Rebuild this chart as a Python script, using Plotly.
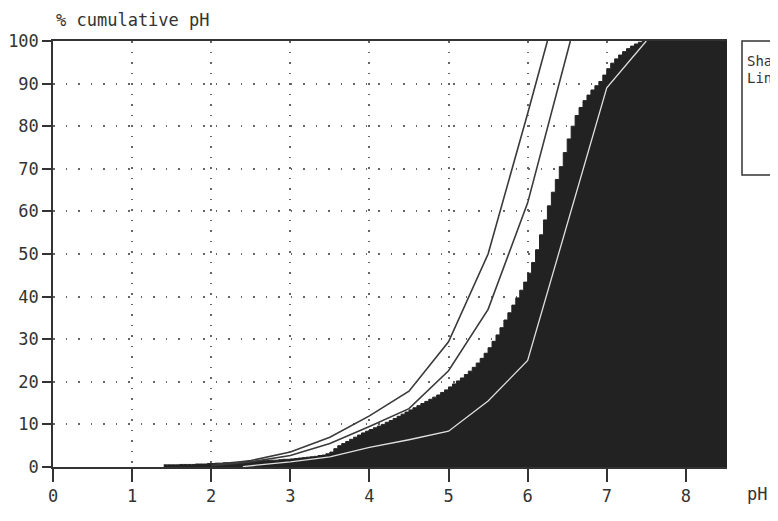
import plotly.graph_objects as go

# ---------------- data ----------------
x_max = 8.52
y_ticks = [0, 10, 20, 30, 40, 50, 60, 70, 80, 90, 100]
x_ticks = [0, 1, 2, 3, 4, 5, 6, 7, 8]

# shaded cumulative distribution (steps of 0.05 pH starting at 1.40)
shade_ph_start = 1.40
shade_ph_step = 0.05
shade_cum = [
    0.5, 0.5, 0.5, 0.5, 0.6, 0.6, 0.6, 0.6, 0.7, 0.7, 0.7, 0.8,      # 1.40-1.95
    0.8, 0.9, 0.9, 1.0, 1.0, 1.1, 1.1, 1.2, 1.2, 1.3,                # 2.00-2.45
    1.3, 1.4, 1.4, 1.5, 1.5, 1.6, 1.6, 1.7, 1.8, 1.8,                # 2.50-2.95
    1.9, 2.0, 2.1, 2.2, 2.3, 2.4, 2.5, 2.7, 2.8, 3.1,                # 3.00-3.45
    3.5, 4.3, 5.0, 5.5, 6.0, 6.5, 7.0, 7.5, 8.0, 8.4,                # 3.50-3.95
    8.8, 9.2, 9.6, 10.0, 10.5, 10.9, 11.4, 11.9, 12.4, 12.9,         # 4.00-4.45
    13.4, 13.9, 14.4, 14.9, 15.4, 15.9, 16.4, 16.9, 17.5, 18.1,      # 4.50-4.95
    18.8, 19.5, 20.2, 20.9, 21.7, 22.5, 23.4, 24.4, 25.5, 26.7,      # 5.00-5.45
    28.0, 29.5, 31.0, 32.7, 34.5, 36.2, 38.0, 39.7, 41.5, 43.4,      # 5.50-5.95
    45.5, 48.0, 51.0, 54.5, 58.0, 61.3, 64.5, 67.5, 70.5, 73.8,      # 6.00-6.45
    77.0, 80.0, 82.5, 84.4, 86.0, 87.3, 88.5, 89.5, 90.5, 92.0,      # 6.50-6.95
    93.5, 94.8, 95.8, 96.7, 97.5, 98.2, 98.8, 99.3, 99.7, 100.0,     # 7.00-7.45
]

line_a_ph = [2.0, 2.5, 3.0, 3.5, 4.0, 4.5, 5.0, 5.5, 6.0, 6.25]
line_a_cum = [0.4, 1.5, 3.5, 7.0, 12.0, 17.8, 29.4, 50.0, 83.0, 100.0]

line_b_ph = [2.0, 2.5, 3.0, 3.5, 4.0, 4.5, 5.0, 5.5, 6.0, 6.54]
line_b_cum = [0.3, 1.2, 2.7, 5.5, 9.5, 13.7, 22.6, 37.0, 62.0, 100.0]

line_c_ph = [2.4, 3.0, 3.5, 4.0, 4.5, 5.0, 5.5, 6.0, 7.0, 7.5]
line_c_cum = [0.1, 1.2, 2.4, 4.6, 6.4, 8.4, 15.5, 25.0, 89.0, 100.0]

legend_lines = ["Sha", "Lin"]

# ---------------- figure ----------------
shade_ph = [round(shade_ph_start + shade_ph_step * i, 2) for i in range(len(shade_cum))]
shade_x = shade_ph + [x_max]
shade_y = shade_cum + [shade_cum[-1]]

FONT = "DejaVu Sans Mono"
INK = "#333333"
FS = 17

fig = go.Figure()
fig.add_trace(go.Scatter(
    x=shade_x, y=shade_y, mode="lines", line=dict(shape="hv", color="#222222", width=1),
    fill="tozeroy", fillcolor="#222222", hoverinfo="skip", showlegend=False))
fig.add_trace(go.Scatter(
    x=line_a_ph, y=line_a_cum, mode="lines", line=dict(color="#3a3a3a", width=1.6),
    showlegend=False))
fig.add_trace(go.Scatter(
    x=line_b_ph, y=line_b_cum, mode="lines", line=dict(color="#3a3a3a", width=1.6),
    showlegend=False))
fig.add_trace(go.Scatter(
    x=line_c_ph, y=line_c_cum, mode="lines", line=dict(color="#e0e0e0", width=1.3),
    showlegend=False))

# page has an 8px body margin: lay the figure out in window pixels minus 8
OFF = 8
W, H = 778 - OFF, 521 - OFF
ml, mt = 53 - OFF, 41 - OFF
mr = W - (727 - OFF)
mb = H - (467 - OFF)
pw, ph_ = W - ml - mr, H - mt - mb


def px_x(px):
    return (px - OFF - ml) / pw


def px_y(py):
    return (H - mb - (py - OFF)) / ph_


fig.update_layout(
    width=W, height=H,
    margin=dict(l=ml, r=mr, t=mt, b=mb, autoexpand=False),
    paper_bgcolor="white", plot_bgcolor="white",
    font=dict(family=FONT, size=FS, color=INK),
    showlegend=False,
    xaxis=dict(
        range=[0, x_max], tickvals=x_ticks, ticktext=[str(v) for v in x_ticks],
        ticks="outside", ticklen=13, tickwidth=1.5, tickcolor=INK,
        showline=True, linecolor=INK, linewidth=1.5, mirror=True,
        showgrid=True, gridcolor="#666666", gridwidth=1.5, griddash="1.5px,9px",
        zeroline=False, fixedrange=True,
        tickfont=dict(family=FONT, size=FS, color=INK),
    ),
    yaxis=dict(
        range=[0, 100], tickvals=y_ticks, ticktext=[str(v) for v in y_ticks],
        ticks="outside", ticklen=9, tickwidth=1.5, tickcolor=INK,
        showline=True, linecolor=INK, linewidth=1.5,
        showgrid=True, gridcolor="#666666", gridwidth=1.5, griddash="1.5px,11px",
        zeroline=False, fixedrange=True,
        tickfont=dict(family=FONT, size=FS, color=INK),
    ),
)

# axis titles
fig.add_annotation(text="% cumulative pH", xref="paper", yref="paper",
                   x=px_x(54), y=px_y(20), xanchor="left", yanchor="middle",
                   showarrow=False, font=dict(family=FONT, size=FS, color=INK))
fig.add_annotation(text="pH", xref="paper", yref="paper",
                   x=px_x(757), y=px_y(494), xanchor="center", yanchor="middle",
                   showarrow=False, font=dict(family=FONT, size=FS, color=INK))

# legend box (cut by the right edge)
fig.add_shape(type="rect", xref="paper", yref="paper",
              x0=px_x(742), x1=px_x(800), y0=px_y(175), y1=px_y(41),
              line=dict(color=INK, width=1.5), fillcolor="white")
for i, t in enumerate(legend_lines):
    fig.add_annotation(text=t, xref="paper", yref="paper",
                       x=px_x(745), y=px_y(61 + 17 * i), xanchor="left", yanchor="middle",
                       showarrow=False, font=dict(family=FONT, size=14, color=INK))

fig.write_html("out.html")
